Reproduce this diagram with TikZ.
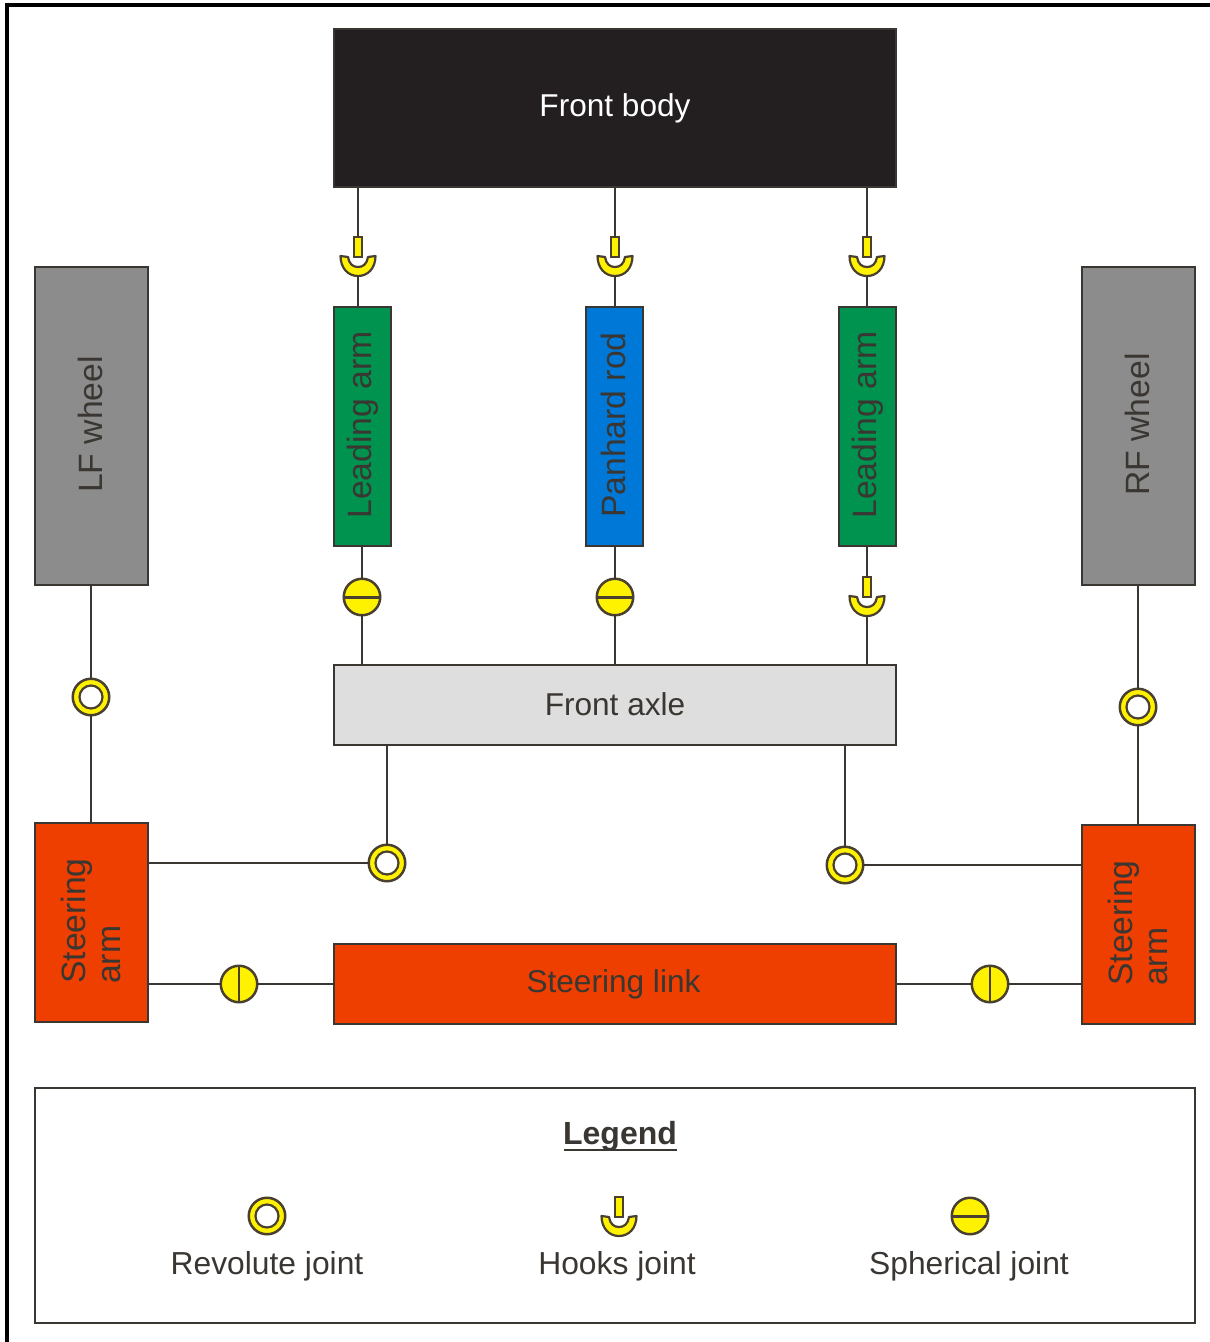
\documentclass[tikz,border=0pt]{standalone}
\usepackage{fontspec}
\setmainfont{Liberation Sans}
\definecolor{ink}{HTML}{3A3632}
\definecolor{jy}{HTML}{FFF200}
\definecolor{jl}{HTML}{4A4030}
\definecolor{fbody}{HTML}{231F20}
\definecolor{wheelg}{HTML}{8C8C8C}
\definecolor{armg}{HTML}{00934F}
\definecolor{rodb}{HTML}{0078D7}
\definecolor{axleg}{HTML}{DEDEDE}
\definecolor{steero}{HTML}{EE3E00}
\newcommand{\fs}[1]{\fontsize{#1}{#1}\selectfont}
\newcommand{\vt}[1]{\raisebox{1.5pt}{\hspace*{3pt}#1}}
\tikzset{
 box/.style={draw=ink,line width=2.2pt,inner sep=0pt,outer sep=0pt,text=ink,font=\fs{31.6}},
 vbox/.style={box,rotate=90,font=\fs{33.7}},
 conn/.style={draw=ink,line width=2.4pt},
 jointbase/.style={circle,draw=jl,line width=2.5pt,fill=jy,inner sep=0pt,minimum size=36.5pt,outer sep=0pt},
 revolute/.style={jointbase,path picture={\draw[jl,line width=2.2pt,fill=white] (path picture bounding box.center) circle (11.5pt);}},
 sphh/.style={jointbase,path picture={\draw[jl,line width=3pt] (path picture bounding box.west) -- (path picture bounding box.east);}},
 sphv/.style={jointbase,path picture={\draw[jl,line width=2pt] (path picture bounding box.north) -- (path picture bounding box.south);}},
 hookrect/.style={draw=jl,line width=2.2pt,fill=jy,inner sep=0pt,outer sep=0pt,minimum width=8.5pt,minimum height=20pt},
 hookcup/.style={draw=jl,line width=2.2pt,fill=jy,line join=round},
 legtext/.style={text=ink,font=\fs{31.8},inner sep=0pt},
}
% name, x, y of top of the small rectangle
\newcommand{\hookj}[3]{%
 \coordinate (#1b) at (#2,#3+39);
 \draw[hookcup] (#2-17.5,#3+19) .. controls (#2-17.5,#3+31) and (#2-10,#3+39) .. (#1b)
   .. controls (#2+10,#3+39) and (#2+17.5,#3+31) .. (#2+17.5,#3+19)
   -- (#2+10,#3+20) .. controls (#2+9,#3+27) and (#2+5,#3+30) .. (#2,#3+30)
   .. controls (#2-5,#3+30) and (#2-9,#3+27) .. (#2-10,#3+20) -- cycle;
 \node[hookrect] (#1) at (#2,#3+10) {};
}
\begin{document}
\begin{tikzpicture}[x=1pt,y=-1pt]
\useasboundingbox (0,0) rectangle (1210,1342);
\coordinate (fa) at (1210,5);
\coordinate (fb) at (7,5);
\coordinate (fc) at (7,1342);
\draw[black,line width=3.5pt] (fa) -- (fb) -- (fc);

% boxes
\node[box,fill=fbody,text=white,minimum width=562pt,minimum height=158pt] (front) at (615,108) {\raisebox{1.5pt}{Front body}};
\node[vbox,fill=wheelg,minimum width=318pt,minimum height=113pt] (lfw) at (91.5,426) {\vt{LF wheel}};
\node[vbox,fill=wheelg,minimum width=318pt,minimum height=113pt] (rfw) at (1138.5,426) {\vt{RF wheel}};
\node[vbox,fill=armg,minimum width=239pt,minimum height=57pt] (la) at (362.5,426.5) {\vt{Leading arm}};
\node[vbox,fill=rodb,minimum width=239pt,minimum height=57pt] (pr) at (614.5,426.5) {\vt{Panhard rod}};
\node[vbox,fill=armg,minimum width=239pt,minimum height=57pt] (ra) at (867.5,426.5) {\vt{Leading arm}};
\node[box,fill=axleg,minimum width=562pt,minimum height=80pt] (axle) at (615,705) {\raisebox{1.5pt}{Front axle}};
\node[vbox,fill=steero,minimum width=199pt,minimum height=113pt,align=left] (lsa) at (91.5,922.5) {\raisebox{1.5pt}{\hspace*{3pt}Steering}\\[1pt]\raisebox{1.5pt}{\hspace*{3pt}arm}};
\node[vbox,fill=steero,minimum width=199pt,minimum height=113pt,align=left] (rsa) at (1138.5,924.5) {\raisebox{1.5pt}{\hspace*{3pt}Steering}\\[1pt]\raisebox{1.5pt}{\hspace*{3pt}arm}};
\node[box,fill=steero,minimum width=562pt,minimum height=80pt] (link) at (615,984) {\raisebox{1.5pt}{\hspace*{-3pt}Steering link}};

% joints
\hookj{h1}{358}{237}
\hookj{h2}{615}{237}
\hookj{h3}{867}{237}
\hookj{h4}{867}{577}
\node[sphh] (s1) at (362,597) {};
\node[sphh] (s2) at (615,597) {};
\node[revolute] (r1) at (91,697) {};
\node[revolute] (r2) at (1138,707) {};
\node[revolute] (r3) at (387,863) {};
\node[revolute] (r4) at (845,865) {};
\node[sphv] (v1) at (239,984) {};
\node[sphv] (v2) at (990,984) {};

% connectors
\draw[conn] (front.south -| h1) -- (h1.north);
\draw[conn] (h1b) -- (h1b |- la.east);
\draw[conn] (front.south -| h2) -- (h2.north);
\draw[conn] (h2b) -- (h2b |- pr.east);
\draw[conn] (front.south -| h3) -- (h3.north);
\draw[conn] (h3b) -- (h3b |- ra.east);
\draw[conn] (s1 |- la.west) -- (s1.north);
\draw[conn] (s1.south) -- (s1 |- axle.north);
\draw[conn] (s2 |- pr.west) -- (s2.north);
\draw[conn] (s2.south) -- (s2 |- axle.north);
\draw[conn] (h4 |- ra.west) -- (h4.north);
\draw[conn] (h4b) -- (h4b |- axle.north);
\draw[conn] (r1 |- lfw.west) -- (r1.north);
\draw[conn] (r1.south) -- (r1 |- lsa.east);
\draw[conn] (r2 |- rfw.west) -- (r2.north);
\draw[conn] (r2.south) -- (r2 |- rsa.east);
\draw[conn] (r3 |- axle.south) -- (r3.north);
\draw[conn] (r4 |- axle.south) -- (r4.north);
\draw[conn] (lsa.south |- r3) -- (r3.west);
\draw[conn] (r4.east) -- (rsa.north |- r4);
\draw[conn] (lsa.south |- v1) -- (v1.west);
\draw[conn] (v1.east) -- (link.west);
\draw[conn] (link.east) -- (v2.west);
\draw[conn] (v2.east) -- (rsa.north |- v2);

% legend
\node[box,fill=white,minimum width=1160pt,minimum height=235pt] (legend) at (615,1205.5) {};
\node[legtext,font=\fs{32}\bfseries] (legt) at (620,1136) {Legend};
\coordinate (ula) at (564,1150);
\coordinate (ulb) at (677,1150);
\draw[ink,line width=2pt] (ula) -- (ulb);
\node[revolute] (lr) at (267,1216) {};
\hookj{lh}{619}{1197}
\node[sphh] (ls) at (970,1216) {};
\node[legtext] (lrt) at (267,1266) {Revolute joint};
\node[legtext] (lht) at (617,1266) {Hooks joint};
\node[legtext] (lst) at (969,1266) {Spherical joint};
\end{tikzpicture}
\end{document}
